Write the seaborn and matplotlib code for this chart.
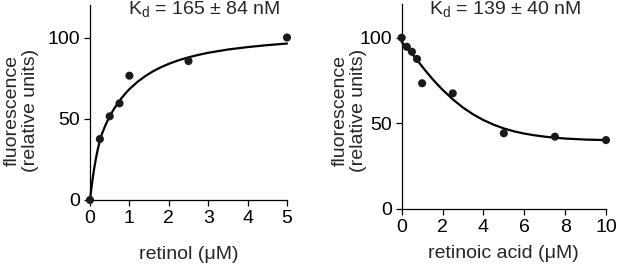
import matplotlib
matplotlib.use("Agg")
import numpy as np
import pandas as pd
import matplotlib.pyplot as plt
import seaborn as sns

# retinol titration (left)
retinol_um = [0, 0.25, 0.5, 0.75, 1.0, 2.5, 5.0]
retinol_fl = [0, 37.5, 51.5, 59.5, 76.5, 85.5, 100]
retinol_fit_x = [0, 0.05, 0.1, 0.15, 0.2, 0.25, 0.3, 0.4, 0.5, 0.6, 0.7, 0.8, 0.9, 1.0,
                 1.2, 1.4, 1.6, 1.8, 2.0, 2.25, 2.5, 2.75, 3.0, 3.5, 4.0, 4.5, 5.0]
retinol_fit_y = [0, 10, 18.5, 25.5, 31.5, 36.5, 40.5, 46.5, 51.5, 55.7, 59.4, 62.7, 65.6, 68.2,
                 72.6, 76.2, 79.2, 81.7, 83.8, 86.0, 87.8, 89.3, 90.6, 92.6, 94.1, 95.3, 96.3]

# retinoic acid competition (right)
ra_um = [0, 0.25, 0.5, 0.75, 1.0, 2.5, 5.0, 7.5, 10.0]
ra_fl = [100, 94.7, 91.8, 87.6, 73.4, 67.5, 44.2, 42.2, 40.2]
ra_fit_x = [0, 0.25, 0.5, 0.75, 1.0, 1.25, 1.5, 1.75, 2.0, 2.5, 3.0, 3.5, 4.0, 4.5, 5.0,
            5.5, 6.0, 6.5, 7.0, 7.5, 8.0, 9.0, 10.0]
ra_fit_y = [97.5, 94.3, 90.8, 87.0, 83.2, 79.5, 76.0, 72.7, 69.6, 64.0, 59.2, 55.2, 51.9, 49.2, 47.0,
            45.3, 44.0, 43.0, 42.2, 41.6, 41.1, 40.5, 40.2]

sns.set_theme(style="ticks")
plt.rcParams['font.family'] = ['Liberation Sans', 'DejaVu Sans']
plt.rcParams['mathtext.fontset'] = 'custom'
plt.rcParams['mathtext.rm'] = 'Liberation Sans'

FS = 14

fig = plt.figure(figsize=(6.17, 2.64), dpi=100)
ax1 = fig.add_axes([90 / 617, 64 / 264, 197 / 617, 195 / 264])
ax2 = fig.add_axes([401.7 / 617, 55.1 / 264, 204.3 / 617, 205.4 / 264])


def draw_panel(ax, x, y, fx, fy, xmax, xticks, xlabel, kd_text, kd_xy, ylab_xy, xlab_xy):
    sns.lineplot(x=fx, y=fy, ax=ax, color='black', linewidth=1.6, clip_on=False)
    sns.scatterplot(x=x, y=y, ax=ax, color='#1a1a1a', s=34, edgecolor='none',
                    clip_on=False, zorder=5)
    ax.set_xlim(0, xmax)
    ax.set_ylim(0, 120)
    ax.set_xticks(xticks)
    ax.set_yticks([0, 50, 100])
    sns.despine(ax=ax)
    for sp in ['left', 'bottom']:
        ax.spines[sp].set_linewidth(0.9)
        ax.spines[sp].set_color('black')
    ax.tick_params(axis='both', length=4, width=0.9, labelsize=FS, colors='black', pad=3)
    ax.set_xlabel(xlabel, fontsize=FS)
    ax.set_ylabel('fluorescence\n(relative units)', fontsize=FS, linespacing=1.1)
    ax.xaxis.set_label_coords(*xlab_xy)
    ax.xaxis.label.set_va('center')
    ax.yaxis.set_label_coords(*ylab_xy)
    ax.yaxis.label.set_va('center')
    ax.text(*kd_xy, kd_text, transform=ax.transAxes, ha='center', va='baseline',
            fontsize=FS)


draw_panel(ax1, retinol_um, retinol_fl, retinol_fit_x, retinol_fit_y, 5,
           [0, 1, 2, 3, 4, 5], 'retinol (\u03bcM)',
           r'K$_\mathregular{d}$ = 165 ± 84 nM', (0.579, 0.949),
           (-0.348, 0.46), (0.5, -0.277))
draw_panel(ax2, ra_um, ra_fl, ra_fit_x, ra_fit_y, 10,
           [0, 2, 4, 6, 8, 10], 'retinoic acid (\u03bcM)',
           r'K$_\mathregular{d}$ = 139 ± 40 nM', (0.506, 0.944),
           (-0.258, 0.48), (0.5, -0.215))

fig.savefig('out.png', dpi=100)
